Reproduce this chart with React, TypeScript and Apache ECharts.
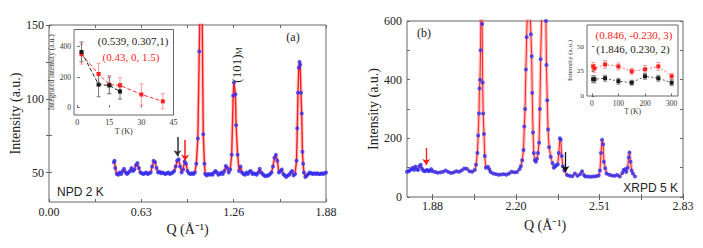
import React, { useEffect, useRef } from 'react';
import * as echarts from 'echarts';

// ---------- Panel (a): NPD 2 K ----------
const npdQ = [0.44, 0.445, 0.45, 0.46, 0.47, 0.48, 0.49, 0.5, 0.51, 0.52, 0.53, 0.54, 0.55, 0.56, 0.57, 0.58, 0.59, 0.6, 0.61, 0.62, 0.63, 0.64, 0.65, 0.66, 0.67, 0.68, 0.69, 0.7, 0.71, 0.72, 0.73, 0.74, 0.75, 0.76, 0.77, 0.78, 0.79, 0.8, 0.81, 0.82, 0.83, 0.84, 0.85, 0.86, 0.87, 0.88, 0.89, 0.9, 0.91, 0.92, 0.93, 0.94, 0.95, 0.96, 0.97, 0.98, 0.99, 1.0, 1.01, 1.02, 1.03, 1.04, 1.047, 1.055, 1.06, 1.07, 1.08, 1.09, 1.1, 1.11, 1.12, 1.13, 1.14, 1.15, 1.16, 1.17, 1.18, 1.19, 1.2, 1.21, 1.22, 1.23, 1.24, 1.25, 1.255, 1.265, 1.27, 1.28, 1.29, 1.3, 1.31, 1.32, 1.33, 1.34, 1.35, 1.36, 1.37, 1.38, 1.39, 1.4, 1.41, 1.42, 1.43, 1.44, 1.45, 1.46, 1.47, 1.48, 1.49, 1.5, 1.51, 1.52, 1.53, 1.54, 1.55, 1.56, 1.57, 1.58, 1.59, 1.6, 1.61, 1.62, 1.63, 1.64, 1.65, 1.66, 1.67, 1.68, 1.685, 1.69, 1.695, 1.7, 1.705, 1.71, 1.715, 1.72, 1.725, 1.73, 1.74, 1.75, 1.76, 1.77, 1.78, 1.79, 1.8, 1.81, 1.82, 1.83, 1.84, 1.85, 1.86, 1.87, 1.88];
const npdI = [57, 58, 53, 49, 48.5, 50, 49, 51, 52.5, 50, 49, 50, 51, 53, 51, 52, 55, 56.5, 53, 50, 49.5, 49, 49.5, 50, 49, 49.5, 50, 54, 58, 57, 53, 50, 50.5, 49.5, 50, 49.5, 49, 49.5, 50, 49, 49.5, 50, 51, 54, 58, 59, 54, 50, 52, 57.5, 56, 51, 49.5, 49, 49.5, 49, 50, 56, 73, 132, 210, 152, 76, 56, 49, 48, 49, 48.5, 49, 48.5, 50, 51, 50, 48.5, 49, 50, 49, 51, 54.5, 53, 50, 52, 62, 102, 111, 103, 82, 62, 51, 54, 50, 49, 48.5, 50, 49, 50.5, 51, 49, 49.5, 49, 48.5, 50, 52.5, 50, 49, 48, 47.5, 48, 48, 49, 50, 54, 60, 62, 58, 50, 51, 52, 49, 48, 47, 48, 48.5, 50, 51, 48, 49, 58, 80, 104, 121, 125, 123, 104, 90, 64, 56, 50, 47, 48, 49, 50, 49.5, 49, 49.5, 49, 49.5, 49, 49, 49.5, 49, 49.5, 50];

const npdXTicks = [0, 0.31333, 0.62667, 0.94, 1.25333, 1.56667, 1.88];
const npdXLabelVals = [0, 0.62667, 1.25333, 1.88];
const npdXLabels = ['0.00', '0.63', '1.26', '1.88'];
const npdYTicks = [50, 75, 100, 125, 150];
const npdYLabels = [50, 100, 150];

// arrows [Q, from, to]
const npdArrowBlack = [0.872, 74, 61];
const npdArrowRed = [0.924, 72, 58];

// Inset (a): integrated intensity vs T
const insATBlack = [2, 10, 15, 20];
const insAIBlack = [365, 150, 145, 105];
const insAEBlack = [65, 80, 55, 50];
const insATRed = [2, 10, 15, 20, 30, 40];
const insAIRed = [350, 220, 150, 145, 85, 40];
const insAERed = [65, 70, 60, 50, 70, 50];
const insAXLabels = [0, 15, 30, 45];
const insAYLabels = [0, 200, 400];

// ---------- Panel (b): XRPD 5 K ----------
const xrpdQ = [1.783, 1.79, 1.795, 1.8, 1.805, 1.81, 1.815, 1.82, 1.825, 1.83, 1.835, 1.84, 1.845, 1.85, 1.855, 1.86, 1.865, 1.87, 1.875, 1.88, 1.89, 1.9, 1.91, 1.92, 1.93, 1.94, 1.95, 1.96, 1.97, 1.98, 1.99, 2.0, 2.01, 2.02, 2.03, 2.04, 2.045, 2.05, 2.053, 2.056, 2.058, 2.06, 2.062, 2.064, 2.066, 2.068, 2.07, 2.072, 2.075, 2.078, 2.082, 2.09, 2.095, 2.1, 2.11, 2.12, 2.13, 2.14, 2.15, 2.16, 2.17, 2.18, 2.19, 2.2, 2.21, 2.215, 2.22, 2.225, 2.228, 2.231, 2.234, 2.237, 2.24, 2.245, 2.25, 2.253, 2.256, 2.258, 2.261, 2.264, 2.268, 2.272, 2.276, 2.28, 2.284, 2.287, 2.29, 2.294, 2.3, 2.306, 2.31, 2.312, 2.315, 2.318, 2.322, 2.328, 2.335, 2.34, 2.345, 2.35, 2.355, 2.359, 2.363, 2.366, 2.37, 2.374, 2.38, 2.39, 2.4, 2.41, 2.42, 2.43, 2.44, 2.447, 2.455, 2.46, 2.47, 2.48, 2.49, 2.5, 2.51, 2.515, 2.519, 2.523, 2.527, 2.53, 2.535, 2.54, 2.55, 2.56, 2.57, 2.58, 2.59, 2.6, 2.605, 2.61, 2.615, 2.62, 2.624, 2.627, 2.631, 2.635, 2.64, 2.648];
const xrpdI = [86, 88, 92, 95, 100, 92, 104, 95, 92, 105, 110, 96, 90, 88, 90, 92, 88, 90, 95, 88, 85, 83, 84, 86, 90, 85, 82, 84, 88, 86, 90, 97, 96, 88, 86, 92, 110, 150, 210, 285, 370, 400, 500, 700, 700, 590, 390, 285, 215, 140, 100, 103, 95, 85, 80, 78, 76, 77, 78, 76, 80, 86, 84, 85, 95, 105, 125, 160, 240, 300, 435, 545, 650, 680, 640, 555, 480, 355, 220, 150, 125, 120, 130, 150, 185, 300, 470, 620, 700, 650, 600, 450, 330, 230, 170, 137, 115, 100, 105, 108, 112, 150, 200, 195, 140, 105, 90, 75, 72, 71, 80, 72, 78, 88, 74, 70, 70, 69, 70, 71, 73, 90, 150, 195, 180, 120, 98, 80, 76, 73, 72, 75, 70, 82, 92, 95, 85, 100, 135, 152, 120, 90, 80, 70];

const xrpdXTicks = [1.88, 2.03833, 2.19667, 2.355, 2.51333, 2.67167, 2.83];
const xrpdXLabelVals = [1.88, 2.19667, 2.51333, 2.83];
const xrpdXLabels = ['1.88', '2.20', '2.51', '2.83'];
const xrpdYTicks = [0, 100, 200, 300, 400, 500, 600];
const xrpdYLabels = [0, 200, 400, 600];

const xrpdArrowRed = [1.856, 167, 109];
const xrpdArrowBlack = [2.384, 153, 85];

// Inset (b): intensity vs T
const insBT = [5, 10, 50, 100, 150, 200, 250, 300];
const insBRed = [30, 28, 32, 30, 25, 27, 30, 20];
const insBRedErr = [4, 4, 4, 3.5, 3, 4, 4, 3];
const insBBlack = [17, 17, 18, 15, 13.5, 20, 18, 13.5];
const insBBlackErr = [3.5, 3.5, 3, 3, 2.5, 3, 3, 3];
const insBXLabels = [0, 100, 200, 300];
const insBYLabels = [0, 25, 50];

const SERIF = 'Liberation Serif';
const SANS = 'Liberation Sans';
const FRAME = '#666';

const pairs = (a: number[], b: number[]) => a.map((v, i) => [v, b[i]]);
const triples = (a: number[], b: number[], c: number[]) => a.map((v, i) => [v, b[i], c[i]]);
const labelFor = (vals: number[], labels: string[]) => (v: number) => {
  const i = vals.findIndex((x) => Math.abs(x - v) < 1e-3);
  return i >= 0 ? labels[i] : '';
};

function mainX(grid: number, min: number, max: number, ticks: number[], lv: number[], lbls: string[], gap: number, margin: number) {
  return [
    {
      type: 'value', gridIndex: grid, min, max, position: 'bottom',
      axisLine: { show: false },
      splitLine: { show: false },
      axisTick: { inside: true, length: 3, customValues: ticks, lineStyle: { color: FRAME } },
      axisLabel: { customValues: lv, formatter: labelFor(lv, lbls), fontFamily: SERIF, fontSize: 12, color: '#222', margin },
      name: 'Q (Å⁻¹)', nameLocation: 'middle', nameGap: gap,
      nameTextStyle: { fontFamily: SERIF, fontSize: 14, color: '#222' },
    },
    {
      type: 'value', gridIndex: grid, min, max, position: 'top',
      axisLine: { show: false }, splitLine: { show: false },
      axisTick: { inside: true, length: 3, customValues: ticks, lineStyle: { color: FRAME } },
      axisLabel: { show: false },
    },
  ];
}

function mainY(grid: number, min: number, max: number, ticks: number[], lbls: number[], gap: number) {
  return [
    {
      type: 'value', gridIndex: grid, min, max, position: 'left',
      axisLine: { show: false }, splitLine: { show: false },
      axisTick: { inside: true, length: 3, customValues: ticks, lineStyle: { color: FRAME } },
      axisLabel: { customValues: lbls, fontFamily: SERIF, fontSize: 12, color: '#222', margin: 5 },
      name: 'Intensity (a.u.)', nameLocation: 'middle', nameGap: gap,
      nameTextStyle: { fontFamily: SERIF, fontSize: 14, color: '#222' },
    },
    {
      type: 'value', gridIndex: grid, min, max, position: 'right',
      axisLine: { show: false }, splitLine: { show: false },
      axisTick: { inside: true, length: 3, customValues: ticks, lineStyle: { color: FRAME } },
      axisLabel: { show: false },
    },
  ];
}

function insetAxis(grid: number, min: number, max: number, lbls: number[], name: string, gap: number, pos: string, fs: number) {
  return {
    type: 'value', gridIndex: grid, min, max, position: pos,
    axisLine: { show: false }, splitLine: { show: false },
    axisTick: { inside: true, length: 2.5, customValues: lbls, lineStyle: { color: FRAME } },
    axisLabel: { customValues: lbls, fontFamily: SERIF, fontSize: fs, color: '#333', margin: 3 },
    name, nameLocation: 'middle', nameGap: gap,
    nameTextStyle: { fontFamily: SERIF, fontSize: fs, color: '#333' },
  };
}

function errorBars(xi: number, yi: number, data: number[][], color: string, cap: number) {
  return {
    type: 'custom', xAxisIndex: xi, yAxisIndex: yi, z: 3,
    data,
    encode: { x: 0, y: 1 },
    renderItem: (params: any, api: any) => {
      const x = api.value(0), y = api.value(1), e = api.value(2);
      const t = api.coord([x, y + e]);
      const b = api.coord([x, y - e]);
      const st = { stroke: color, lineWidth: 1 };
      return {
        type: 'group',
        children: [
          { type: 'line', shape: { x1: t[0], y1: t[1], x2: b[0], y2: b[1] }, style: st },
          { type: 'line', shape: { x1: t[0] - cap, y1: t[1], x2: t[0] + cap, y2: t[1] }, style: st },
          { type: 'line', shape: { x1: b[0] - cap, y1: b[1], x2: b[0] + cap, y2: b[1] }, style: st },
        ],
      };
    },
  };
}

function arrow(a: number[], color: string) {
  return [{ coord: [a[0], a[1]], lineStyle: { color } }, { coord: [a[0], a[2]] }];
}

export default function App() {
  const ref = useRef<HTMLDivElement>(null);
  useEffect(() => {
    if (!ref.current) return;
    const chart = echarts.init(ref.current, undefined, { renderer: 'svg' });
    const option: any = {
      animation: false,
      backgroundColor: '#fff',
      textStyle: { fontFamily: SERIF },
      grid: [
        { left: 49, top: 25, width: 277, height: 177, show: true, borderColor: FRAME, borderWidth: 1, backgroundColor: 'transparent' },
        { left: 407, top: 21, width: 276, height: 176, show: true, borderColor: FRAME, borderWidth: 1, backgroundColor: 'transparent' },
        { left: 74, top: 29.5, width: 99.5, height: 85.5, show: true, borderColor: FRAME, borderWidth: 1, backgroundColor: '#fff' },
        { left: 587, top: 25, width: 91, height: 71, show: true, borderColor: FRAME, borderWidth: 1, backgroundColor: '#fff' },
      ],
      xAxis: [
        ...mainX(0, 0, 1.88, npdXTicks, npdXLabelVals, npdXLabels, 18, 4),
        ...mainX(1, 1.783, 2.83, xrpdXTicks, xrpdXLabelVals, xrpdXLabels, 21, 3),
        insetAxis(2, -1.5, 45, insAXLabels, 'T (K)', 12, 'bottom', 8),
        insetAxis(3, -18, 324, insBXLabels, 'T (K)', 11, 'bottom', 7.5),
      ],
      yAxis: [
        ...mainY(0, 30, 150, npdYTicks, npdYLabels, 24),
        ...mainY(1, 0, 600, xrpdYTicks, xrpdYLabels, 27),
        insetAxis(2, -50, 513, insAYLabels, 'Integrated intensity (a.u.)', 12, 'left', 7.5),
        insetAxis(3, 0, 72, insBYLabels, 'Intensity (a.u.)', 11, 'left', 7),
      ],
      series: [
        {
          type: 'line', xAxisIndex: 0, yAxisIndex: 0, data: pairs(npdQ, npdI), showSymbol: false, clip: true, z: 1,
          lineStyle: { color: 'rgba(255,80,80,0.3)', width: 3.5 },
        },
        {
          type: 'line', xAxisIndex: 0, yAxisIndex: 0, data: pairs(npdQ, npdI), showSymbol: false, clip: true, z: 2,
          lineStyle: { color: '#ff1a1a', width: 1.4 },
          markLine: {
            silent: true, symbol: ['none', 'arrow'], symbolSize: 6, label: { show: false },
            lineStyle: { width: 1.5, type: 'solid' },
            data: [arrow(npdArrowBlack, '#333'), arrow(npdArrowRed, '#ff1a1a')],
          },
        },
        {
          type: 'scatter', xAxisIndex: 0, yAxisIndex: 0, data: pairs(npdQ, npdI), clip: true, z: 3,
          symbol: 'circle', symbolSize: 4, itemStyle: { color: '#2f2ff2' },
        },
        {
          type: 'line', xAxisIndex: 2, yAxisIndex: 2, data: pairs(xrpdQ, xrpdI), showSymbol: false, clip: true, z: 1,
          lineStyle: { color: 'rgba(255,80,80,0.35)', width: 3.5 },
        },
        {
          type: 'line', xAxisIndex: 2, yAxisIndex: 2, data: pairs(xrpdQ, xrpdI), showSymbol: false, clip: true, z: 2,
          lineStyle: { color: '#ff2020', width: 1 },
          markLine: {
            silent: true, symbol: ['none', 'arrow'], symbolSize: 6, label: { show: false },
            lineStyle: { width: 1.3, type: 'solid' },
            data: [arrow(xrpdArrowRed, '#ff1a1a'), arrow(xrpdArrowBlack, '#111')],
          },
        },
        {
          type: 'scatter', xAxisIndex: 2, yAxisIndex: 2, data: pairs(xrpdQ, xrpdI), clip: true, z: 3,
          symbol: 'circle', symbolSize: 4, itemStyle: { color: '#2f2ff2' },
        },
        // inset a
        errorBars(4, 4, triples(insATRed, insAIRed, insAERed), '#ff9a9a', 2),
        errorBars(4, 4, triples(insATBlack, insAIBlack, insAEBlack), '#777', 2),
        {
          type: 'line', xAxisIndex: 4, yAxisIndex: 4, data: pairs(insATRed, insAIRed), z: 4,
          symbol: 'rect', symbolSize: 4, itemStyle: { color: '#ff2020' },
          lineStyle: { color: '#ff3030', width: 1, type: [4, 2] },
        },
        {
          type: 'line', xAxisIndex: 4, yAxisIndex: 4, data: pairs(insATBlack, insAIBlack), z: 4,
          symbol: 'rect', symbolSize: 4, itemStyle: { color: '#1a1a1a' },
          lineStyle: { color: '#222', width: 1, type: [4, 2] },
        },
        // inset b
        errorBars(5, 5, triples(insBT, insBRed, insBRedErr), '#ff9a9a', 2),
        errorBars(5, 5, triples(insBT, insBBlack, insBBlackErr), '#888', 2),
        {
          type: 'line', xAxisIndex: 5, yAxisIndex: 5, data: pairs(insBT, insBRed), z: 4,
          symbol: 'rect', symbolSize: 4, itemStyle: { color: '#ff2020' },
          lineStyle: { color: '#ff7070', width: 1, type: [2, 2] },
        },
        {
          type: 'line', xAxisIndex: 5, yAxisIndex: 5, data: pairs(insBT, insBBlack), z: 4,
          symbol: 'rect', symbolSize: 4, itemStyle: { color: '#1a1a1a' },
          lineStyle: { color: '#555', width: 1, type: [2, 2] },
        },
      ],
      graphic: [
        { type: 'text', x: 133, y: 41, z: 10, style: { text: '(0.539, 0.307,1)', fill: '#222', font: `11px "${SERIF}"`, align: 'center', verticalAlign: 'middle' } },
        { type: 'text', x: 131, y: 57, z: 10, style: { text: '(0.43, 0, 1.5)', fill: '#ff2020', font: `11px "${SERIF}"`, align: 'center', verticalAlign: 'middle' } },
        { type: 'text', x: 293, y: 37, z: 10, style: { text: '(a)', fill: '#222', font: `12px "${SERIF}"`, align: 'center', verticalAlign: 'middle' } },
        {
          type: 'text', x: 236, y: 65, rotation: Math.PI / 2, z: 10,
          style: {
            text: '{a|(101)}{b|M}', align: 'center', verticalAlign: 'middle', fill: '#222',
            rich: {
              a: { fontFamily: SERIF, fontSize: 13, fill: '#222', lineHeight: 14, verticalAlign: 'bottom' },
              b: { fontFamily: SERIF, fontSize: 8, fill: '#222', lineHeight: 14, verticalAlign: 'bottom', padding: [6, 0, 0, 0] },
            },
          },
        },
        { type: 'text', x: 57, y: 192, z: 10, style: { text: 'NPD 2 K', fill: '#222', font: `12px "${SANS}"`, align: 'left', verticalAlign: 'middle' } },
        { type: 'text', x: 424, y: 33, z: 10, style: { text: '(b)', fill: '#222', font: `12px "${SERIF}"`, align: 'center', verticalAlign: 'middle' } },
        { type: 'text', x: 678, y: 188, z: 10, style: { text: 'XRPD 5 K', fill: '#222', font: `12px "${SANS}"`, align: 'right', verticalAlign: 'middle' } },
        { type: 'text', x: 634, y: 35, z: 10, style: { text: '(0.846, -0.230, 3)', fill: '#ff2020', font: `11px "${SERIF}"`, align: 'center', verticalAlign: 'middle' } },
        { type: 'text', x: 633, y: 49, z: 10, style: { text: '(1.846, 0.230, 2)', fill: '#222', font: `11px "${SERIF}"`, align: 'center', verticalAlign: 'middle' } },
      ],
    };
    chart.setOption(option);
    return () => chart.dispose();
  }, []);
  return <div ref={ref} style={{ position: 'absolute', left: 0, top: 0, width: 703, height: 248 }} />;
}
